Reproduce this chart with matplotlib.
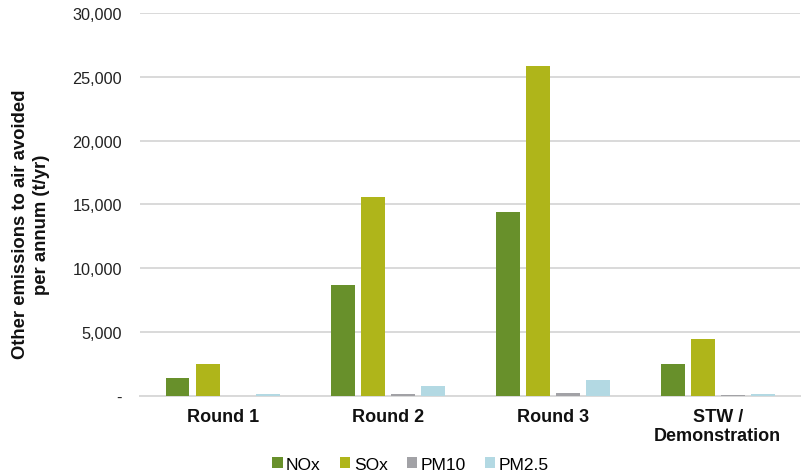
import matplotlib
matplotlib.use("Agg")
import matplotlib.pyplot as plt
import numpy as np
from matplotlib.ticker import FuncFormatter

plt.rcParams['font.family'] = ['Liberation Sans', 'DejaVu Sans']

categories = ["Round 1", "Round 2", "Round 3", "STW /\nDemonstration"]
series_names = ["NOx", "SOx", "PM10", "PM2.5"]
nox = [1400, 8700, 14400, 2500]
sox = [2500, 15550, 25800, 4450]
pm10 = [20, 130, 260, 30]
pm25 = [110, 780, 1220, 180]
colors = ["#68902B", "#AFB51A", "#A2A2A6", "#B3D9E3"]

values = [nox, sox, pm10, pm25]

fig = plt.figure(figsize=(8.05, 4.77), dpi=100)
ax = fig.add_axes([0.174, 0.168, 0.820, 0.803])

x = np.arange(len(categories))
step = 0.182
width = 0.145
for i, (name, vals, c) in enumerate(zip(series_names, values, colors)):
    ax.bar(x + (i - 1.5) * step, vals, width=width, color=c, label=name,
           zorder=3)

ax.set_xlim(-0.5, len(categories) - 0.5)
ax.set_ylim(0, 30000)
ax.set_yticks(np.arange(0, 30001, 5000))
ax.yaxis.set_major_formatter(FuncFormatter(lambda v, p: "-" if v == 0 else f"{int(v):,}"))
ax.grid(axis='y', color='#D9D9D9', linewidth=1.4, zorder=0)
ax.set_axisbelow(True)

for s in ['top', 'right', 'left']:
    ax.spines[s].set_visible(False)
ax.spines['bottom'].set_color('#D9D9D9')
ax.spines['bottom'].set_linewidth(1.4)

ax.tick_params(axis='y', length=0, labelsize=11.7, labelcolor='#222222', pad=13)
ax.tick_params(axis='x', length=0, pad=9)
ax.set_xticks(x)
ax.set_xticklabels(categories, fontsize=13, fontweight='bold', color='#111111',
                   linespacing=1.1)

ax.set_ylabel("Other emissions to air avoided\nper annum (t/yr)", fontsize=13.3,
              fontweight='bold', color='#111111', linespacing=1.3)
ax.yaxis.set_label_coords(-0.137, 0.45)

fig.legend(loc='center', bbox_to_anchor=(0.51, 0.024), ncol=4, frameon=False,
           fontsize=12.5, handlelength=0.6, handleheight=0.6, handletextpad=0.2,
           columnspacing=1.1)

fig.savefig("out.png", dpi=100)
